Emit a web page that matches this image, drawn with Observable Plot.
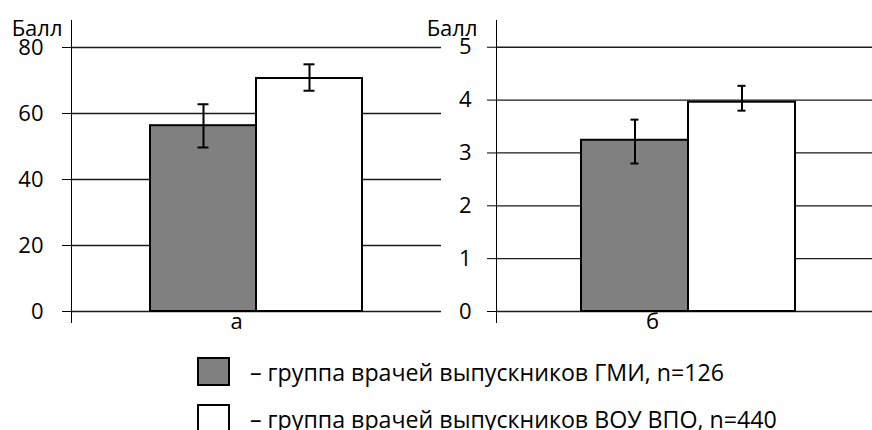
<!DOCTYPE html>
<html>
<head>
<meta charset="utf-8">
<script src="https://cdn.jsdelivr.net/npm/d3@7"></script>
<script src="https://cdn.jsdelivr.net/npm/@observablehq/plot@0.6"></script>
<style>
  html, body { margin: 0; padding: 0; background: #fff; }
  #wrap { position: relative; width: 872px; height: 430px; overflow: hidden; font-family: "Open Sans", sans-serif; }
  #wrap svg { position: absolute; left: 0; top: 0; overflow: visible; background: none; }
  #wrap svg text { font-family: "Open Sans", sans-serif !important; font-size: 22px !important; fill: #000; }
  .lg-row { position: absolute; left: 197px; display: flex; align-items: center; }
  .lg-box { width: 33px; height: 29px; box-sizing: border-box; border: 2px solid #000; }
  .lg-text { margin-left: 20px; font-size: 23.2px; line-height: 22px; color: #000; white-space: nowrap; }
</style>
</head>
<body>
<div id="wrap"></div>
<script>
// ---- data ----
const categories = ["а", "б"];
const series = ["группа врачей выпускников ГМИ, n=126", "группа врачей выпускников ВОУ ВПО, n=440"];
const seriesColors = ["#808080", "#ffffff"];
const yLabel = "Балл";

const valuesA = [56.3, 70.6];
const errLowA = [49.7, 66.9];
const errHighA = [62.8, 74.9];
const ticksA = [0, 20, 40, 60, 80];

const valuesB = [3.24, 3.96];
const errLowB = [2.80, 3.80];
const errHighB = [3.63, 4.27];
const ticksB = [0, 1, 2, 3, 4, 5];

function rows(cat, vals, lo, hi) {
  return series.map((s, i) => ({cat, series: s, value: vals[i], lo: lo[i], hi: hi[i]}));
}

function panel({cat, data, ticks, yDomain, marginLeft, marginRight, tickPadding, xAlign, capInset, labelDx, catDx}) {
  return Plot.plot({
    width: 872,
    height: 340,
    marginTop: 20,
    marginBottom: 18,
    marginLeft,
    marginRight,
    style: {"background": "none", "font-family": "Open Sans", "font-size": "22px", "color": "#000", "overflow": "visible"},
    fx: {domain: [cat], padding: 0, axis: null},
    x: {domain: series, paddingInner: 0, paddingOuter: 0.745, align: xAlign, axis: null},
    y: {domain: yDomain, ticks, tickSize: 9, tickPadding, line: true, label: null, tickFormat: d => String(d)},
    color: {domain: series, range: seriesColors},
    marks: [
      Plot.ruleY(ticks, {stroke: "#1a1a1a", strokeWidth: 1.3}),
      Plot.barY(data, {fx: "cat", x: "series", y: "value", fill: "series", stroke: "#000", strokeWidth: 2}),
      Plot.ruleX(data, {fx: "cat", x: "series", y1: "lo", y2: "hi", stroke: "#000", strokeWidth: 2}),
      Plot.tickY(data, {fx: "cat", x: "series", y: "lo", stroke: "#000", strokeWidth: 2, insetLeft: capInset, insetRight: capInset}),
      Plot.tickY(data, {fx: "cat", x: "series", y: "hi", stroke: "#000", strokeWidth: 2, insetLeft: capInset, insetRight: capInset}),
      Plot.text([yLabel], {frameAnchor: "top-left", textAnchor: "end", dx: labelDx, dy: 0, fill: "#000", fontSize: 22}),
      Plot.text([cat], {fx: d => d, frameAnchor: "bottom", dx: catDx, dy: 6, fill: "#000", fontSize: 22})
    ]
  });
}

const wrap = document.getElementById("wrap");

wrap.appendChild(panel({
  cat: categories[0],
  data: rows(categories[0], valuesA, errLowA, errHighA),
  ticks: ticksA,
  yDomain: [-3.333, 88.18],
  marginLeft: 71,
  marginRight: 431,
  tickPadding: 19,
  xAlign: 0.5,
  capInset: 47.5,
  labelDx: -9,
  catDx: -20
}));

wrap.appendChild(panel({
  cat: categories[1],
  data: rows(categories[1], valuesB, errLowB, errHighB),
  ticks: ticksB,
  yDomain: [-0.208, 5.506],
  marginLeft: 496,
  marginRight: 0,
  tickPadding: 16,
  xAlign: 0.525,
  capInset: 49.5,
  labelDx: -19,
  catDx: -32
}));

// ---- legend ----
const legendTops = [357, 404];
series.forEach((s, i) => {
  const row = document.createElement("div");
  row.className = "lg-row";
  row.style.top = legendTops[i] + "px";
  const box = document.createElement("div");
  box.className = "lg-box";
  box.style.background = seriesColors[i];
  const txt = document.createElement("div");
  txt.className = "lg-text";
  txt.textContent = "– " + s;
  row.appendChild(box);
  row.appendChild(txt);
  wrap.appendChild(row);
});
</script>
</body>
</html>
